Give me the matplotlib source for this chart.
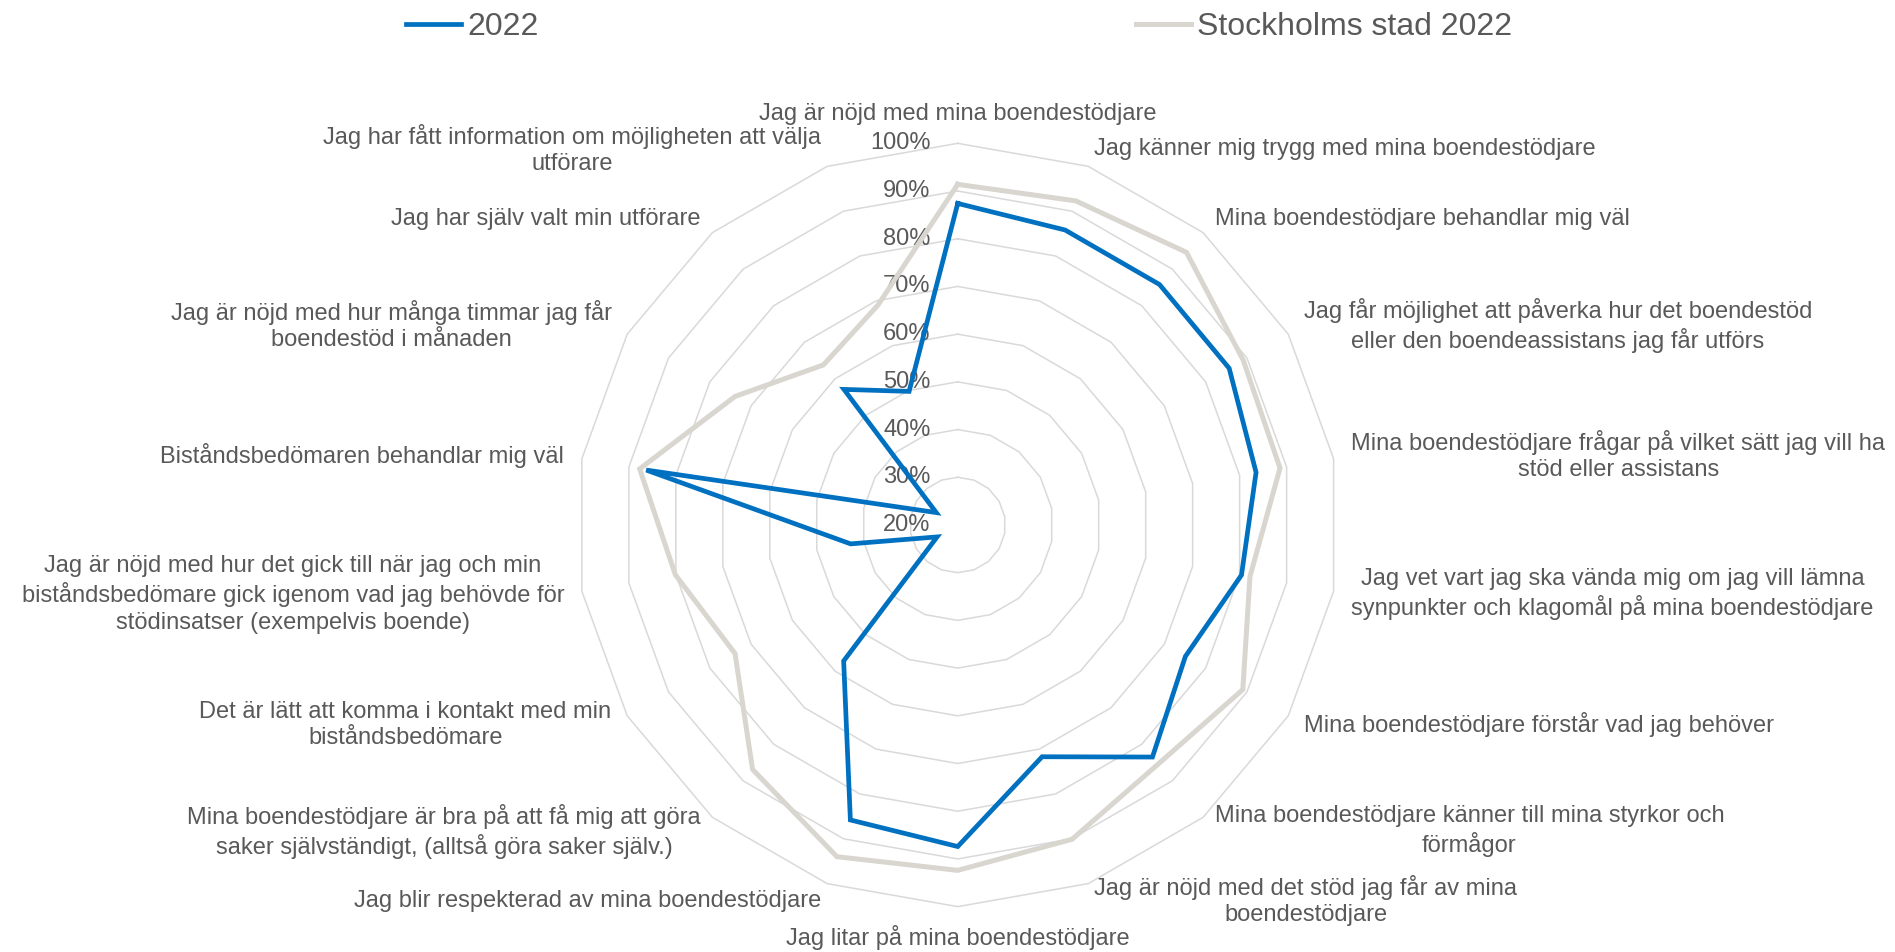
import numpy as np
import matplotlib
matplotlib.use("Agg")
import matplotlib.pyplot as plt

plt.rcParams['font.family'] = ['Liberation Sans', 'DejaVu Sans']

# kategorier, medsols från toppen
categories = [
    "Jag är nöjd med mina boendestödjare",
    "Jag känner mig trygg med mina boendestödjare",
    "Mina boendestödjare behandlar mig väl",
    "Jag får möjlighet att påverka hur det boendestöd\neller den boendeassistans jag får utförs",
    "Mina boendestödjare frågar på vilket sätt jag vill ha\nstöd eller assistans",
    "Jag vet vart jag ska vända mig om jag vill lämna\nsynpunkter och klagomål på mina boendestödjare",
    "Mina boendestödjare förstår vad jag behöver",
    "Mina boendestödjare känner till mina styrkor och\nförmågor",
    "Jag är nöjd med det stöd jag får av mina\nboendestödjare",
    "Jag litar på mina boendestödjare",
    "Jag blir respekterad av mina boendestödjare",
    "Mina boendestödjare är bra på att få mig att göra\nsaker självständigt, (alltså göra saker själv.)",
    "Det är lätt att komma i kontakt med min\nbiståndsbedömare",
    "Jag är nöjd med hur det gick till när jag och min\nbiståndsbedömare gick igenom vad jag behövde för\nstödinsatser (exempelvis boende)",
    "Biståndsbedömaren behandlar mig väl",
    "Jag är nöjd med hur många timmar jag får\nboendestöd i månaden",
    "Jag har själv valt min utförare",
    "Jag har fått information om möjligheten att välja\nutförare",
]

v2022 = [0.874, 0.858, 0.858, 0.857, 0.835, 0.804, 0.751, 0.835, 0.717,
         0.874, 0.858, 0.572, 0.250, 0.428, 0.863, 0.252, 0.571, 0.498]
stockholm = [0.914, 0.923, 0.946, 0.891, 0.886, 0.822, 0.890, 0.854, 0.901,
             0.924, 0.940, 0.869, 0.739, 0.801, 0.877, 0.739, 0.638, 0.690]

ticks = [0.2, 0.3, 0.4, 0.5, 0.6, 0.7, 0.8, 0.9, 1.0]
tick_labels = ["20%", "30%", "40%", "50%", "60%", "70%", "80%", "90%", "100%"]

blue = "#0070C0"
grey = "#D9D6D0"
txt = "#595959"

n = len(categories)
ang = np.linspace(0, 2 * np.pi, n, endpoint=False)
ang_c = np.append(ang, ang[0])

fig = plt.figure(figsize=(18.95, 9.52), dpi=100)
ax = fig.add_axes([0.304, 0.0476, 0.4028, 0.8019], projection='polar')
ax.set_theta_zero_location('N')
ax.set_theta_direction(-1)
ax.set_ylim(0.2, 1.0)
ax.set_xticks([])
ax.set_yticks([])
ax.grid(False)
ax.spines['polar'].set_visible(False)
ax.patch.set_alpha(0)

# polygon-rutnät
for t in ticks[1:]:
    ax.plot(ang_c, [t] * (n + 1), color="#D9D9D9", lw=1.1, zorder=1, clip_on=False)

ax.plot(ang_c, stockholm + stockholm[:1], color=grey, lw=3.6, zorder=3,
        solid_joinstyle='miter', clip_on=False, label="Stockholms stad 2022")
ax.plot(ang_c, v2022 + v2022[:1], color=blue, lw=3.4, zorder=4,
        solid_joinstyle='miter', clip_on=False, label="2022")

for t, lab in zip(ticks, tick_labels):
    ax.annotate(lab, xy=(0, t), xytext=(-27, 0), textcoords='offset pixels',
                ha='right', va='center', fontsize=17, color=txt, zorder=2,
                annotation_clip=False)

for a, lab in zip(ang, categories):
    s, c = np.sin(a), np.cos(a)
    if abs(s) < 0.05:
        ha = 'center'
        va = 'bottom' if c > 0 else 'top'
    else:
        ha = 'left' if s > 0 else 'right'
        va = 'center'
    ax.annotate(lab, xy=(a, 1.0), xytext=(18 * s, 18 * c), textcoords='offset pixels',
                ha=ha, va=va, ma='center', fontsize=17, color=txt,
                linespacing=1.25, annotation_clip=False)

h, l = ax.get_legend_handles_labels()
fig.legend(h[::-1], l[::-1], loc='center left', bbox_to_anchor=(406 / 1895, 1 - 27 / 952),
           ncol=2, frameon=False, fontsize=23, labelcolor=txt, borderpad=0,
           borderaxespad=0, handlelength=1.72, handletextpad=0.2, columnspacing=18.7)

fig.savefig("out.png", dpi=100)
